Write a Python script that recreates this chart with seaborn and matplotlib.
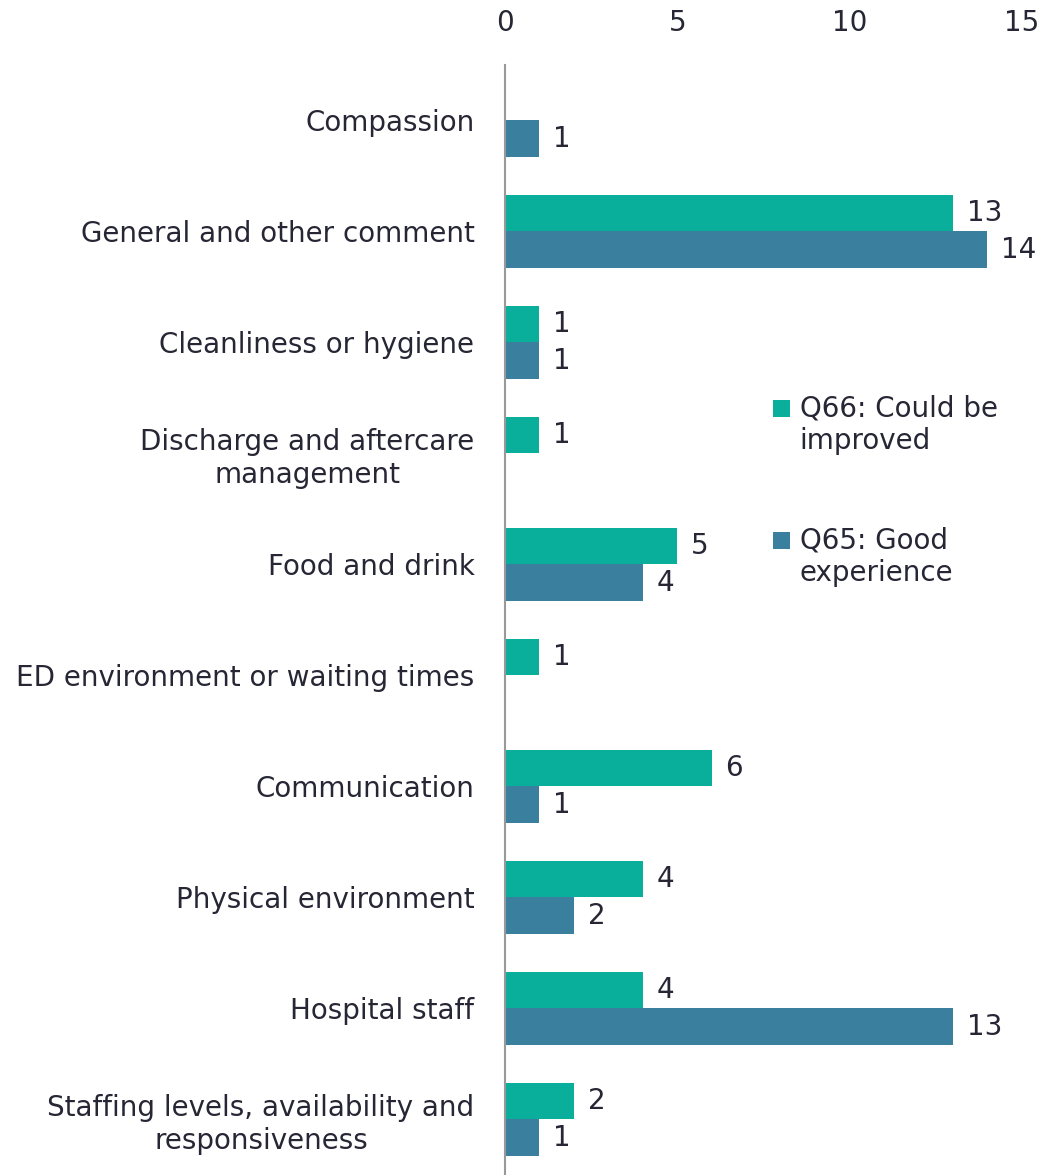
import matplotlib
matplotlib.use("Agg")
import matplotlib.pyplot as plt
from matplotlib.patches import Rectangle
from matplotlib.legend_handler import HandlerPatch
import seaborn as sns
import pandas as pd
import numpy as np

categories = [
    "Compassion",
    "General and other comment",
    "Cleanliness or hygiene",
    "Discharge and aftercare\nmanagement",
    "Food and drink",
    "ED environment or waiting times",
    "Communication",
    "Physical environment",
    "Hospital staff",
    "Staffing levels, availability and\nresponsiveness",
]
q66_could_be_improved = [np.nan, 13, 1, 1, 5, 1, 6, 4, 4, 2]
q65_good_experience = [1, 14, 1, np.nan, 4, np.nan, 1, 2, 13, 1]
series_names = ["Q66: Could be\nimproved", "Q65: Good\nexperience"]
x_ticks = [0, 5, 10, 15]

colors = ["#0AAF9B", "#3A7F9E"]
text_color = "#262635"
FS = 20

rows = []
for c, a, b in zip(categories, q66_could_be_improved, q65_good_experience):
    if not np.isnan(a):
        rows.append({"cat": c, "series": series_names[0], "value": a})
    if not np.isnan(b):
        rows.append({"cat": c, "series": series_names[1], "value": b})
df = pd.DataFrame(rows)

sns.set_style("white")
plt.rcParams["font.family"] = ["DejaVu Sans"]

fig = plt.figure(figsize=(10.5, 11.75), dpi=100)
ax = fig.add_axes([0.481, 0.0, 0.492, 0.9447])

sns.barplot(data=df, y="cat", x="value", hue="series", order=categories,
            hue_order=series_names, palette=colors, orient="h", width=0.65,
            errorbar=None, ax=ax, saturation=1, legend=True, linewidth=0)

for cont in ax.containers:
    ax.bar_label(cont, fmt="%d", padding=10, fontsize=FS, color=text_color)

ax.set_xlim(0, 15)
ax.set_xticks(x_ticks)
ax.xaxis.tick_top()
ax.tick_params(axis="x", length=0, labelsize=FS, labelcolor=text_color, pad=20)
ax.tick_params(axis="y", length=0, labelsize=FS, labelcolor=text_color, pad=22)
for lbl in ax.get_yticklabels():
    lbl.set_multialignment("center")
ax.set_xlabel("")
ax.set_ylabel("")
for s in ["top", "right", "bottom"]:
    ax.spines[s].set_visible(False)
ax.spines["left"].set_color("#999999")
ax.spines["left"].set_linewidth(1.5)


def top_square(legend, orig_handle, xdescent, ydescent, width, height, fontsize):
    s = 0.62 * fontsize
    return Rectangle((-xdescent, -ydescent + 0.67 * fontsize), s, s)


handles, labels = ax.get_legend_handles_labels()
leg = ax.legend(handles, labels, loc="upper left", bbox_to_anchor=(0.518, 0.703),
                frameon=False, fontsize=FS, handlelength=0.62, handleheight=0.7,
                handletextpad=0.35, labelspacing=2.58, labelcolor=text_color,
                borderpad=0, borderaxespad=0,
                handler_map={Rectangle: HandlerPatch(patch_func=top_square)})

fig.savefig("out.png", dpi=100)
